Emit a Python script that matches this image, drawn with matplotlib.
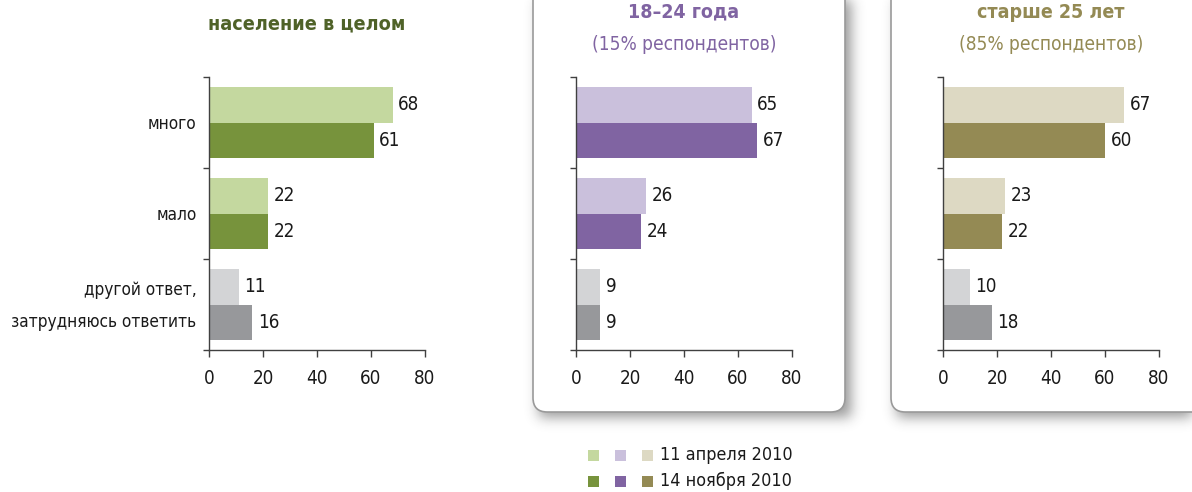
import numpy as np
import matplotlib
matplotlib.use("Agg")
import matplotlib.pyplot as plt
from matplotlib.patches import FancyBboxPatch, Rectangle

plt.rcParams["font.family"] = ["DejaVu Sans"]
plt.rcParams["font.stretch"] = "condensed"

# ---------------------- data ---------------------- #
categories = ["много", "мало", "другой ответ,\nзатрудняюсь ответить"]
xticks = [0, 20, 40, 60, 80]

total_apr = [68, 22, 11]
total_nov = [61, 22, 16]
young_apr = [65, 26, 9]
young_nov = [67, 24, 9]
older_apr = [67, 23, 10]
older_nov = [60, 22, 18]

panel_titles = ["население в целом", "18–24 года", "старше 25 лет"]
panel_subtitles = ["", "(15% респондентов)", "(85% респондентов)"]
legend_labels = ["11 апреля 2010", "14 ноября 2010"]

# colours: (light, dark, title) per panel, grey for the last category
panel_colors = [
    ("#c4d89f", "#77933c", "#4f6228"),
    ("#cac0dc", "#8064a2", "#8064a2"),
    ("#ddd9c3", "#948a54", "#948a54"),
]
grey_light = "#d3d4d6"
grey_dark = "#97989b"

FS = 13.5
W, H = 1192, 492
fig = plt.figure(figsize=(W / 100, H / 100), dpi=100)


def px_rect(x0, y0, x1, y1):
    """top-left pixel coords -> figure fraction [l, b, w, h]"""
    return [x0 / W, 1 - y1 / H, (x1 - x0) / W, (y1 - y0) / H]


# --------------- boxes with shadow --------------- #
boxes = [(533, -30, 845, 412), (891, -30, 1230, 412)]

mask = np.zeros((H, W))
for x0, y0, x1, y1 in boxes:
    mask[max(int(y0) + 5, 0):int(y1) + 5, int(x0) + 6:min(int(x1) + 6, W)] = 1.0
k = np.exp(-0.5 * (np.arange(-20, 21) / 6.5) ** 2)
k /= k.sum()
blur = np.apply_along_axis(lambda r: np.convolve(r, k, mode="same"), 1, mask)
blur = np.apply_along_axis(lambda c: np.convolve(c, k, mode="same"), 0, blur)
shadow = np.zeros((H, W, 4))
shadow[..., :3] = 0.25
shadow[..., 3] = blur * 0.55
fig.figimage(shadow, 0, 0, origin="upper", zorder=-3)

for x0, y0, x1, y1 in boxes:
    l, b, w, h = px_rect(x0, y0, x1, y1)
    fig.patches.append(FancyBboxPatch(
        (l, b), w, h, boxstyle="round,pad=0,rounding_size=0.012",
        transform=fig.transFigure, facecolor="white", edgecolor="#9a9a9a",
        linewidth=1.2, zorder=-1, mutation_aspect=W / H))

# ------------------ bar panels ------------------ #
series = [(total_apr, total_nov), (young_apr, young_nov), (older_apr, older_nov)]
axis_left = [209, 576, 943]
bar_h = 0.385
y = np.arange(len(categories))

for i, (apr, nov) in enumerate(series):
    light, dark, tcol = panel_colors[i]
    ax = fig.add_axes(px_rect(axis_left[i], 77, axis_left[i] + 216, 350))
    ax.set_facecolor("none")
    c_light = [light, light, grey_light]
    c_dark = [dark, dark, grey_dark]
    ax.barh(y - bar_h / 2, apr, height=bar_h, color=c_light)
    ax.barh(y + bar_h / 2, nov, height=bar_h, color=c_dark)
    for yy, v in zip(y - bar_h / 2, apr):
        ax.annotate(str(v), (v, yy), xytext=(4, 0), textcoords="offset points",
                    va="center", ha="left", fontsize=FS, color="#1a1a1a")
    for yy, v in zip(y + bar_h / 2, nov):
        ax.annotate(str(v), (v, yy), xytext=(4, 0), textcoords="offset points",
                    va="center", ha="left", fontsize=FS, color="#1a1a1a")

    ax.set_xlim(0, 80)
    ax.set_ylim(len(categories) - 0.5, -0.5)
    ax.set_xticks(xticks)
    ax.set_xticklabels([str(t) for t in xticks], fontsize=FS, color="#1a1a1a")
    ax.set_yticks([])
    ax.set_yticks(np.arange(len(categories) + 1) - 0.5, minor=True)
    ax.tick_params(axis="y", which="minor", length=4, width=1, color="#404040")
    ax.tick_params(axis="x", length=5, width=1, color="#404040", pad=9)
    for s in ["top", "right"]:
        ax.spines[s].set_visible(False)
    for s in ["left", "bottom"]:
        ax.spines[s].set_color("#404040")
        ax.spines[s].set_linewidth(1)

    if i == 0:
        # category labels left of the first panel
        for yy, cat in zip(y, categories):
            ax.annotate(cat, (0, yy), xycoords=("axes fraction", "data"),
                        xytext=(-9, -1), textcoords="offset points",
                        ha="right", va="center", fontsize=12.3,
                        color="#1a1a1a", linespacing=2.0)
        fig.text(307 / W, 1 - 24 / H, panel_titles[i], ha="center", va="center",
                 fontsize=14.2, fontweight="bold", color=tcol)
    else:
        cx = (axis_left[i] + 108) / W
        fig.text(cx, 1 - 12 / H, panel_titles[i], ha="center", va="center",
                 fontsize=14, fontweight="bold", color=tcol)
        fig.text(cx, 1 - 44 / H, panel_subtitles[i], ha="center", va="center",
                 fontsize=13.7, color=tcol)

# -------------------- legend -------------------- #
sq = 11
legend_rows = [455, 481]
legend_cols = [593, 620, 647]
for r, label in enumerate(legend_labels):
    for c, (light, dark, _) in enumerate(panel_colors):
        col = light if r == 0 else dark
        cx, cy = legend_cols[c], legend_rows[r]
        l, b, w, h = px_rect(cx - sq / 2, cy - sq / 2, cx + sq / 2, cy + sq / 2)
        fig.patches.append(Rectangle((l, b), w, h, transform=fig.transFigure,
                                     facecolor=col, edgecolor="none"))
    fig.text(660 / W, 1 - legend_rows[r] / H, label, ha="left", va="center",
             fontsize=12.9, color="#1a1a1a")

fig.savefig("out.png", dpi=100)
